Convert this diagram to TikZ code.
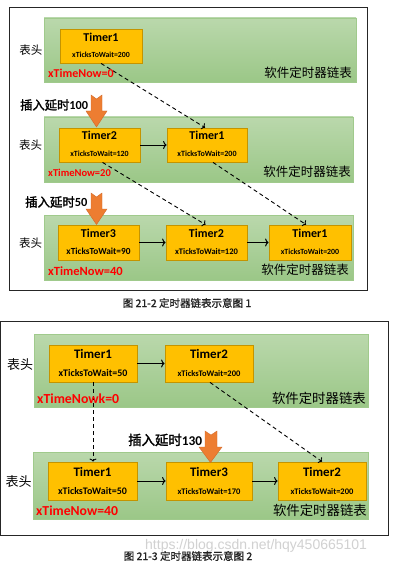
\documentclass[tikz,border=0pt]{standalone}
\usepackage{fontspec}
\setmainfont{Carlito}
\newfontfamily\cjk[AutoFakeBold=2]{Noto Sans CJK SC}
\newfontfamily\capfont[AutoFakeBold=1]{Noto Sans CJK SC}
\newfontfamily\wmfont{Liberation Sans}
\usetikzlibrary{arrows.meta,calc}
\definecolor{bandtop}{RGB}{186,216,172}
\definecolor{bandbot}{RGB}{155,199,135}
\definecolor{bandedge}{RGB}{160,202,140}
\definecolor{tfill}{RGB}{255,192,0}
\definecolor{tedge}{RGB}{196,148,0}
\definecolor{oarrow}{RGB}{237,125,49}
\definecolor{oedge}{RGB}{210,105,40}
\definecolor{capgray}{RGB}{35,35,35}
\newcommand\myfs[1]{\fontsize{#1}{#1}\selectfont}
\tikzset{
 frame/.style={draw=black!85, line width=1pt},
 band/.style={draw=bandedge, line width=0.8pt, top color=bandtop, bottom color=bandbot, inner sep=0pt},
 tbox/.style={draw=tedge, line width=0.8pt, fill=tfill, inner sep=0pt},
 tname/.style={font=\bfseries\myfs{#1}, inner sep=0pt},
 tval/.style={font=\bfseries\myfs{#1}, inner sep=0pt},
 headlbl/.style={font=\cjk\myfs{#1}, inner sep=0pt},
 listlbl/.style={font=\cjk\myfs{#1}, inner sep=0pt, anchor=east},
 nowlbl/.style={font=\bfseries\myfs{#1}, text=red, inner sep=0pt, anchor=west},
 inslbl/.style={font=\bfseries\myfs{#1}, inner sep=0pt, anchor=west},
 caplbl/.style={font=\capfont\bfseries\myfs{10.5}, text=capgray, inner sep=0pt},
 dlink/.style={draw=black, line width=0.9pt, dash pattern=on 4pt off 3pt, -{To[length=3pt,width=7pt]}},
 slink/.style={draw=black, line width=1pt, -{To[length=3.5pt,width=8pt]}},
 oarr/.style={fill=oarrow, draw=oedge, line width=0.4pt},
}
\begin{document}
\begin{tikzpicture}[x=1pt,y=-1pt]
\fill[white] (0,0) rectangle (403,567);
\useasboundingbox (0,0) rectangle (403,567);

% ---------------- figure 21-2 ----------------
\draw[frame] (9,8) rectangle (367,290);

\node[band, minimum width=312pt, minimum height=64pt] (band1) at (200,50) {};
\node[band, minimum width=309pt, minimum height=65pt] (band2) at (198.5,149.5) {};
\node[band, minimum width=309pt, minimum height=65pt] (band3) at (198.5,247.5) {};

% timers
\node[tbox, minimum width=82pt, minimum height=34pt] (aT1) at (101,46) {};
\node[tbox, minimum width=81pt, minimum height=34pt] (bT2) at (99.5,145) {};
\node[tbox, minimum width=80pt, minimum height=34pt] (bT1) at (207,145) {};
\node[tbox, minimum width=81pt, minimum height=35pt] (cT3) at (98.5,242.5) {};
\node[tbox, minimum width=81pt, minimum height=35pt] (cT2) at (206.5,242.5) {};
\node[tbox, minimum width=82pt, minimum height=35pt] (cT1) at (310,242.5) {};

\node[tname=12] (aT1n) at ($(aT1.north)+(0,8.5)$) {Timer1};
\node[tval=7.8] (aT1v) at ($(aT1.south)+(0,-8.5)$) {xTicksToWait=200};
\node[tname=12] (bT2n) at ($(bT2.north)+(0,8)$) {Timer2};
\node[tval=7.9] (bT2v) at ($(bT2.south)+(0,-9)$) {xTicksToWait=120};
\node[tname=12] (bT1n) at ($(bT1.north)+(0,8)$) {Timer1};
\node[tval=8] (bT1v) at ($(bT1.south)+(0,-9)$) {xTicksToWait=200};
\node[tname=12] (cT3n) at ($(cT3.north)+(0,8.5)$) {Timer3};
\node[tval=9.3] (cT3v) at ($(cT3.south)+(0,-9)$) {xTicksToWait=90};
\node[tname=12] (cT2n) at ($(cT2.north)+(0,8.5)$) {Timer2};
\node[tval=8.5] (cT2v) at ($(cT2.south)+(0,-9)$) {xTicksToWait=120};
\node[tname=12] (cT1n) at ($(cT1.north)+(0,8.5)$) {Timer1};
\node[tval=7.9] (cT1v) at ($(cT1.south)+(0,-9)$) {xTicksToWait=200};

% links
\draw[slink] (bT2.east) -- (bT1.west);
\draw[slink] (cT3.east) -- (cT2.west);
\draw[slink] (cT2.east) -- (cT1.west);
\draw[dlink] (aT1.south) -- ($(bT1.north)+(-2,0)$);
\draw[dlink] ($(bT2.south)+(3,0)$) -- ($(cT2.north)+(-1,0)$);
\draw[dlink] ($(bT1.south)+(6,0)$) -- ($(cT1.north)+(-4,0)$);

% labels
\node[headlbl=11.5] (h1) at (31,50) {表头};
\node[headlbl=11.5] (h2) at (30.5,145) {表头};
\node[headlbl=11.5] (h3) at (30.5,243) {表头};
\node[listlbl=12.5] (l1) at (352,73) {软件定时器链表};
\node[listlbl=12.5] (l2) at (351,172) {软件定时器链表};
\node[listlbl=12.5] (l3) at (349,270) {软件定时器链表};
\node[nowlbl=12] (n1) at (48,73) {xTimeNow=0};
\node[nowlbl=10.5] (n2) at (48,173) {xTimeNow=20};
\node[nowlbl=12.5] (n3) at (48,271) {xTimeNow=40};
\node[inslbl=12.3] (i1) at (20,105) {{\cjk 插入延时}100};
\node[inslbl=12.4] (i2) at (25,202) {{\cjk 插入延时}50};

% orange arrows
\draw[oarr] (91,95) -- (96.5,99) -- (102,95) -- (102,111) -- (107,111) -- (96.5,127) -- (86,111) -- (91,111) -- cycle;
\draw[oarr] (91,193) -- (96.5,197) -- (102,193) -- (102,209) -- (107,209) -- (96.5,224.5) -- (86,209) -- (91,209) -- cycle;

\node[caplbl] (cap1) at (187,303) {图 21-2 定时器链表示意图 1};

% ---------------- figure 21-3 ----------------
\draw[frame] (0.5,321) rectangle (388,535);

\node[band, minimum width=334pt, minimum height=73pt] (band4) at (201,370.5) {};
\node[band, minimum width=335pt, minimum height=67pt] (band5) at (200.5,485.5) {};

\node[tbox, minimum width=88pt, minimum height=37pt] (dT1) at (93,363.5) {};
\node[tbox, minimum width=88pt, minimum height=37pt] (dT2) at (209,363.5) {};
\node[tbox, minimum width=89pt, minimum height=38pt] (eT1) at (92.5,481) {};
\node[tbox, minimum width=86pt, minimum height=38pt] (eT3) at (209,481) {};
\node[tbox, minimum width=88pt, minimum height=38pt] (eT2) at (322,481) {};

\node[tname=13] (dT1n) at ($(dT1.north)+(0,9)$) {Timer1};
\node[tval=10] (dT1v) at ($(dT1.south)+(0,-9)$) {xTicksToWait=50};
\node[tname=13] (dT2n) at ($(dT2.north)+(0,9)$) {Timer2};
\node[tval=8.5] (dT2v) at ($(dT2.south)+(0,-9)$) {xTicksToWait=200};
\node[tname=13] (eT1n) at ($(eT1.north)+(0,10)$) {Timer1};
\node[tval=10] (eT1v) at ($(eT1.south)+(0,-9)$) {xTicksToWait=50};
\node[tname=13] (eT3n) at ($(eT3.north)+(0,10)$) {Timer3};
\node[tval=8.5] (eT3v) at ($(eT3.south)+(0,-9)$) {xTicksToWait=170};
\node[tname=13] (eT2n) at ($(eT2.north)+(0,10)$) {Timer2};
\node[tval=8.5] (eT2v) at ($(eT2.south)+(0,-9)$) {xTicksToWait=200};

\draw[slink] (dT1.east) -- (dT2.west);
\draw[slink] (eT1.east) -- (eT3.west);
\draw[slink] (eT3.east) -- (eT2.west);
\draw[dlink] (dT1.south) -- (dT1.south |- eT1.north);
\draw[dlink] ($(dT2.south)+(1,0)$) -- (eT2.north);

\node[headlbl=13] (h4) at (20,365) {表头};
\node[headlbl=13] (h5) at (18.5,482) {表头};
\node[listlbl=13.4] (l4) at (366,398) {软件定时器链表};
\node[listlbl=13.4] (l5) at (367,510) {软件定时器链表};
\node[nowlbl=13.8] (n4) at (37,399) {xTimeNowk=0};
\node[nowlbl=13.7] (n5) at (36,511) {xTimeNow=40};
\node[inslbl=13.4] (i3) at (128,440) {{\cjk 插入延时}130};

\draw[oarr] (205,431) -- (211,435) -- (217,431) -- (217,447) -- (222,447) -- (210.5,462.5) -- (199,447) -- (205,447) -- cycle;

\node[font=\wmfont\myfs{14}, text=black!18, inner sep=0pt, anchor=west] (wm) at (145,546) {https://blog.csdn.net/hqy450665101};
\node[caplbl] (cap2) at (188,556) {图 21-3 定时器链表示意图 2};
\end{tikzpicture}
\end{document}
